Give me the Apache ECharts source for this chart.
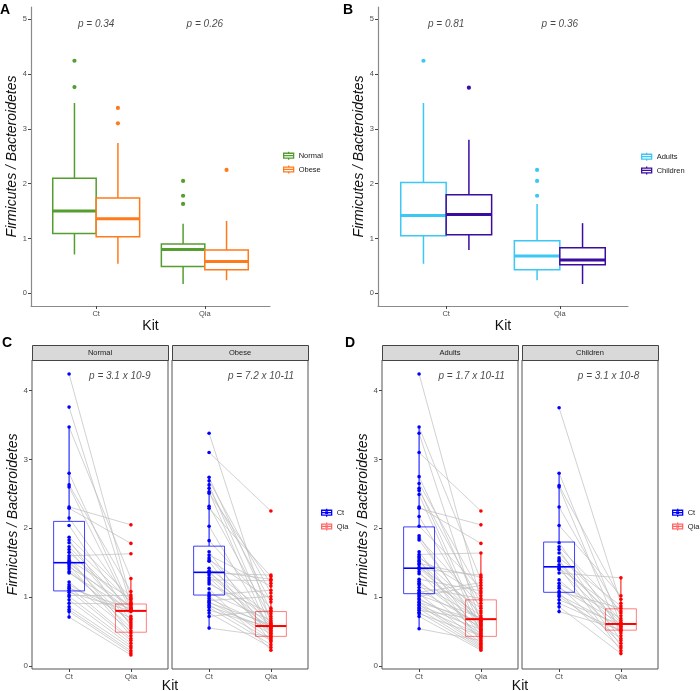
<!DOCTYPE html>
<html><head><meta charset="utf-8">
<script src="https://cdn.jsdelivr.net/npm/echarts@6/dist/echarts.min.js"></script>
<style>html,body{margin:0;padding:0;background:#fff}#c{width:700px;height:691px}</style>
</head><body><div id="c"></div>
<script>
// ---------- data ----------
const kits = ['Ct', 'Qia'];
const bmiGroups = ['Normal', 'Obese'];
const ageGroups = ['Adults', 'Children'];
const yTicksTop = [0, 1, 2, 3, 4, 5];
const yTicksBottom = [0, 1, 2, 3, 4];

// box stats per kit: [lower whisker, Q1, median, Q3, upper whisker]; row 0 = Ct, row 1 = Qia
const normalBox = [[0.71, 1.09, 1.50, 2.10, 3.47], [0.17, 0.49, 0.80, 0.90, 1.27]];
const obeseBox = [[0.54, 1.03, 1.36, 1.74, 2.74], [0.24, 0.43, 0.58, 0.79, 1.32]];
const adultsBox = [[0.54, 1.05, 1.42, 2.02, 3.47], [0.24, 0.43, 0.68, 0.96, 1.63]];
const childrenBox = [[0.79, 1.07, 1.44, 1.80, 2.80], [0.17, 0.52, 0.61, 0.83, 1.28]];

// outliers per kit
const normalOut = [[4.24, 3.76], [2.05, 1.78, 1.63]];
const obeseOut = [[3.38, 3.10], [2.25]];
const adultsOut = [[4.24], [2.25, 2.05, 1.78]];
const childrenOut = [[3.75], []];

const pBmi = ['p = 0.34', 'p = 0.26'];
const pAge = ['p = 0.81', 'p = 0.36'];
const pPaired = ['p = 3.1 x 10-9', 'p = 7.2 x 10-11', 'p = 1.7 x 10-11', 'p = 3.1 x 10-8'];

// paired samples (same index = same sample)
const normalCt = [4.24,3.76,3.47,2.80,2.63,2.60,2.31,2.29,2.15,2.04,1.87,1.83,1.79,1.73,1.69,1.65,1.60,1.57,1.54,1.52,1.49,1.47,1.44,1.41,1.37,1.35,1.22,1.18,1.15,1.13,1.10,1.07,1.03,1.01,0.96,0.91,0.86,0.82,0.79,0.71];
const normalQia = [0.96,0.89,1.27,0.84,1.08,0.80,2.05,1.78,0.91,0.72,1.00,0.58,0.93,0.82,0.67,0.85,1.63,0.48,0.98,0.61,0.79,0.44,0.87,0.55,0.64,0.81,0.51,0.69,0.40,0.83,0.37,0.80,1.03,0.33,0.29,0.90,0.26,0.22,0.19,0.16];
const obeseCt = [3.38,3.10,2.74,2.69,2.63,2.58,2.53,2.51,2.32,2.29,2.03,1.82,1.66,1.61,1.57,1.54,1.52,1.42,1.38,1.37,1.36,1.35,1.32,1.28,1.25,1.22,1.19,1.12,1.06,1.03,1.01,0.98,0.95,0.93,0.92,0.89,0.87,0.85,0.81,0.77,0.72,0.55];
const obeseQia = [0.62,2.25,0.79,1.06,0.57,0.93,0.45,1.20,0.69,1.30,0.52,0.84,0.41,1.16,0.59,0.97,0.35,0.72,1.26,0.50,0.64,1.32,0.58,0.48,1.24,0.55,0.76,0.23,0.66,1.10,0.39,0.57,1.01,0.47,0.60,0.37,0.54,0.31,0.56,0.27,0.81,0.43];
const adultsCt = [4.24,3.47,3.38,3.10,2.75,2.65,2.58,2.55,2.49,2.31,2.29,2.17,2.03,1.89,1.86,1.83,1.66,1.62,1.59,1.57,1.54,1.52,1.49,1.47,1.43,1.42,1.41,1.37,1.34,1.26,1.23,1.20,1.18,1.14,1.10,1.07,1.05,1.03,1.01,0.98,0.96,0.93,0.92,0.89,0.88,0.85,0.83,0.81,0.78,0.76,0.72,0.54];
const adultsQia = [0.95,1.25,0.62,2.25,0.80,1.06,0.56,0.91,0.47,1.78,2.05,0.69,1.13,0.52,0.87,0.59,0.43,1.64,0.77,1.02,0.35,0.66,1.29,0.50,0.84,0.64,1.32,0.41,0.73,1.09,0.54,0.68,0.39,0.98,0.60,1.21,0.33,0.70,1.17,0.48,0.58,0.31,0.65,0.29,0.53,0.45,0.27,0.67,0.25,0.44,0.23,0.37];
const childrenCt = [3.75,2.80,2.62,2.60,2.31,2.04,1.79,1.73,1.69,1.64,1.57,1.54,1.52,1.47,1.44,1.42,1.40,1.35,1.25,1.20,1.16,1.13,1.08,1.06,1.03,1.01,0.96,0.91,0.86,0.79];
const childrenQia = [0.91,0.61,0.97,0.44,0.73,1.02,0.52,0.80,0.37,0.66,0.87,0.29,0.58,0.63,0.22,0.77,0.55,1.28,0.48,0.69,0.33,0.62,0.84,0.26,0.57,0.40,0.60,0.51,0.18,0.53];

// ---------- styles ----------
const FONT = "'Liberation Sans', Arial, sans-serif";
const COL = { Normal: '#539E2F', Obese: '#FF7A1A', Adults: '#3CC8F5', Children: '#3B0CA0', Ct: '#0000FF', Qia: '#FF0000' };
const BOXSTROKE = { Ct: 'rgba(0,0,255,0.75)', Qia: 'rgba(255,0,0,0.5)' };
const ICON_BOX = 'path://M5,0L5,2M0,2L10,2L10,8L0,8ZM0,5L10,5M5,8L5,10';
const ICON_PAIRED = 'path://M5,0L5,2M0,2L10,2L10,8L0,8ZM0,5L10,5M5,8L5,10M4.2,4.2L5.8,4.2L5.8,5.8L4.2,5.8Z';

function makeBoxRender(widthUnits, lw, mw, boxStroke, color, fill) {
  return function (params, api) {
    const x = api.value(0);
    const lo = api.coord([x, api.value(1)]);
    const q1 = api.coord([x, api.value(2)]);
    const md = api.coord([x, api.value(3)]);
    const q3 = api.coord([x, api.value(4)]);
    const hi = api.coord([x, api.value(5)]);
    const w = api.size([widthUnits, 0])[0];
    const cx = lo[0];
    return { type: 'group', children: [
      { type: 'line', shape: { x1: cx, y1: lo[1], x2: cx, y2: q1[1] }, style: { stroke: color, lineWidth: lw } },
      { type: 'line', shape: { x1: cx, y1: q3[1], x2: cx, y2: hi[1] }, style: { stroke: color, lineWidth: lw } },
      { type: 'rect', shape: { x: cx - w / 2, y: q3[1], width: w, height: q1[1] - q3[1] }, style: { fill: fill, stroke: boxStroke, lineWidth: lw } },
      { type: 'line', shape: { x1: cx - w / 2, y1: md[1], x2: cx + w / 2, y2: md[1] }, style: { stroke: color, lineWidth: mw } }
    ] };
  };
}

const grids = [
  { left: 31, top: 7, width: 239, height: 299 },
  { left: 378, top: 7, width: 250, height: 299 },
  { left: 32, top: 360, width: 136, height: 309 },
  { left: 172, top: 360, width: 136, height: 309 },
  { left: 382, top: 360, width: 136, height: 309 },
  { left: 522, top: 360, width: 136, height: 309 }
];
grids.forEach((g, i) => {
  if (i >= 2) { g.show = true; g.borderColor = '#555'; g.borderWidth = 1; g.backgroundColor = '#fff'; }
});

const xAxes = grids.map((g, i) => {
  const top = i < 2;
  return {
    type: 'value', gridIndex: i, min: 0.4, max: 2.6,
    axisLine: { show: top, onZero: false, lineStyle: { color: '#8a8a8a', width: 1.2 } },
    axisTick: { show: true, customValues: [1, 2], length: 3, lineStyle: { color: '#444' } },
    axisLabel: { customValues: [1, 2], formatter: v => kits[Math.round(v) - 1], fontSize: top ? 7.5 : 8, color: '#4D4D4D', margin: 4, fontFamily: FONT },
    splitLine: { show: false },
    name: top ? 'Kit' : '', nameLocation: 'middle', nameGap: 11,
    nameTextStyle: { fontSize: 14, color: '#111', fontFamily: FONT }
  };
});

const yAxes = grids.map((g, i) => {
  const top = i < 2;
  const left = (i === 0 || i === 1 || i === 2 || i === 4);
  const ticks = top ? yTicksTop : yTicksBottom;
  return {
    type: 'value', gridIndex: i,
    min: top ? -0.23 : -0.044, max: top ? 5.22 : 4.444,
    axisLine: { show: top, onZero: false, lineStyle: { color: '#8a8a8a', width: 1.2 } },
    axisTick: { show: left, customValues: ticks, length: 3, lineStyle: { color: '#444' } },
    axisLabel: { show: left, customValues: ticks, fontSize: top ? 7.5 : 8, color: '#4D4D4D', margin: 4, fontFamily: FONT },
    splitLine: { show: false },
    name: left ? 'Firmicutes / Bacteroidetes' : '', nameLocation: 'middle',
    nameGap: i === 0 ? 10.5 : 12,
    nameTextStyle: { fontSize: 14, fontStyle: 'italic', color: '#111', fontFamily: FONT }
  };
});

const series = [];

function groupedPanel(gi, groups, boxes, outs, pTexts) {
  groups.forEach((g, j) => {
    const off = j === 0 ? -0.2 : 0.2;
    series.push({
      type: 'custom', name: g, xAxisIndex: gi, yAxisIndex: gi, z: 3,
      itemStyle: { color: COL[g] },
      encode: { x: 0, y: [1, 2, 3, 4, 5] },
      data: boxes[j].map((b, k) => [k + 1 + off].concat(b)),
      renderItem: makeBoxRender(0.4, 1.5, 3, COL[g], COL[g], '#fff'),
      silent: true
    });
    series.push({
      type: 'scatter', xAxisIndex: gi, yAxisIndex: gi, z: 4, symbolSize: 4.2,
      itemStyle: { color: COL[g], opacity: 1 }, silent: true,
      data: outs[j].flatMap((arr, k) => arr.map(v => [k + 1 + off, v]))
    });
  });
  series.push({
    type: 'scatter', xAxisIndex: gi, yAxisIndex: gi, symbolSize: 0, silent: true,
    data: kits.map((k, i) => [i + 1, 4.91]),
    label: { show: true, position: 'inside', formatter: p => pTexts[p.dataIndex], fontSize: 10, fontStyle: 'italic', color: '#1a1a1a', fontFamily: FONT }
  });
}

groupedPanel(0, bmiGroups, [[normalBox[0], obeseBox[0]], [normalBox[1], obeseBox[1]]].map((_, j) => j === 0 ? normalBox : obeseBox), [normalOut, obeseOut], pBmi);
groupedPanel(1, ageGroups, [adultsBox, childrenBox], [adultsOut, childrenOut], pAge);

function pairedPanel(gi, ct, qia, box, pText, px) {
  series.push({
    type: 'lines', coordinateSystem: 'cartesian2d', xAxisIndex: gi, yAxisIndex: gi, z: 2, silent: true,
    lineStyle: { color: '#BDBDBD', width: 0.7, opacity: 1 },
    data: ct.map((v, i) => ({ coords: [[1, v], [2, qia[i]]] }))
  });
  kits.forEach((k, j) => {
    series.push({
      type: 'custom', name: k, xAxisIndex: gi, yAxisIndex: gi, z: 3, silent: true,
      itemStyle: { color: COL[k] },
      encode: { x: 0, y: [1, 2, 3, 4, 5] },
      data: [[j + 1].concat(box[j])],
      renderItem: makeBoxRender(0.5, 1, j === 0 ? 1.6 : 2, BOXSTROKE[k], COL[k], 'none')
    });
    series.push({
      type: 'scatter', xAxisIndex: gi, yAxisIndex: gi, z: 4, symbolSize: 3.6, silent: true,
      itemStyle: { color: COL[k], opacity: 1 },
      data: (j === 0 ? ct : qia).map(v => [j + 1, v])
    });
  });
  series.push({
    type: 'scatter', xAxisIndex: gi, yAxisIndex: gi, symbolSize: 0, silent: true,
    data: [[px, 4.21]],
    label: { show: true, position: 'inside', formatter: () => pText, fontSize: 10, fontStyle: 'italic', color: '#1a1a1a', fontFamily: FONT }
  });
}

pairedPanel(2, normalCt, normalQia, normalBox, pPaired[0], 1.82);
pairedPanel(3, obeseCt, obeseQia, obeseBox, pPaired[1], 1.84);
pairedPanel(4, adultsCt, adultsQia, adultsBox, pPaired[2], 1.85);
pairedPanel(5, childrenCt, childrenQia, childrenBox, pPaired[3], 1.80);

function legendFor(left, top, names, icon, strokes) {
  return {
    left: left, top: top, orient: 'vertical', itemWidth: 10, itemHeight: 8, itemGap: 4.5,
    symbolKeepAspect: false, padding: 0, selectedMode: false,
    textStyle: { fontSize: 7.5, color: '#1a1a1a', fontFamily: FONT },
    data: names.map(n => ({ name: n, icon: icon, itemStyle: { color: 'rgba(255,255,255,0)', borderColor: strokes[n], borderWidth: 1.3 } }))
  };
}

const legends = [
  legendFor(283, 151, bmiGroups, ICON_BOX, COL),
  legendFor(641, 152, ageGroups, ICON_BOX, COL),
  legendFor(321, 508, kits, ICON_PAIRED, { Ct: COL.Ct, Qia: 'rgba(255,0,0,0.6)' }),
  legendFor(672, 508, kits, ICON_PAIRED, { Ct: COL.Ct, Qia: 'rgba(255,0,0,0.6)' })
];

const stripNames = [bmiGroups[0], bmiGroups[1], ageGroups[0], ageGroups[1]];
const graphic = [];
[2, 3, 4, 5].forEach((gi, s) => {
  const g = grids[gi];
  graphic.push({ type: 'rect', left: g.left, top: 345, shape: { width: g.width, height: 15 }, style: { fill: '#D9D9D9', stroke: '#444', lineWidth: 1 }, silent: true });
  graphic.push({ type: 'text', x: g.left + g.width / 2, y: 352.5, style: { text: stripNames[s], fontSize: 7.5, fill: '#1a1a1a', align: 'center', verticalAlign: 'middle', fontFamily: FONT }, silent: true });
});
[['A', 0, 3], ['B', 343, 3], ['C', 2, 336], ['D', 345, 336]].forEach(([t, x, y]) => {
  graphic.push({ type: 'text', x: x, y: y, style: { text: t, fontSize: 14, fontWeight: 'bold', fill: '#000', fontFamily: FONT }, silent: true });
});
graphic.push({ type: 'text', x: 170, y: 686, style: { text: 'Kit', fontSize: 14, fill: '#111', align: 'center', verticalAlign: 'middle', fontFamily: FONT }, silent: true });
graphic.push({ type: 'text', x: 520, y: 686, style: { text: 'Kit', fontSize: 14, fill: '#111', align: 'center', verticalAlign: 'middle', fontFamily: FONT }, silent: true });

const chart = echarts.init(document.getElementById('c'), null, { renderer: 'canvas' });
chart.setOption({
  animation: false,
  backgroundColor: '#fff',
  textStyle: { fontFamily: FONT },
  grid: grids, xAxis: xAxes, yAxis: yAxes,
  legend: legends,
  series: series,
  graphic: graphic
});
</script></body></html>
